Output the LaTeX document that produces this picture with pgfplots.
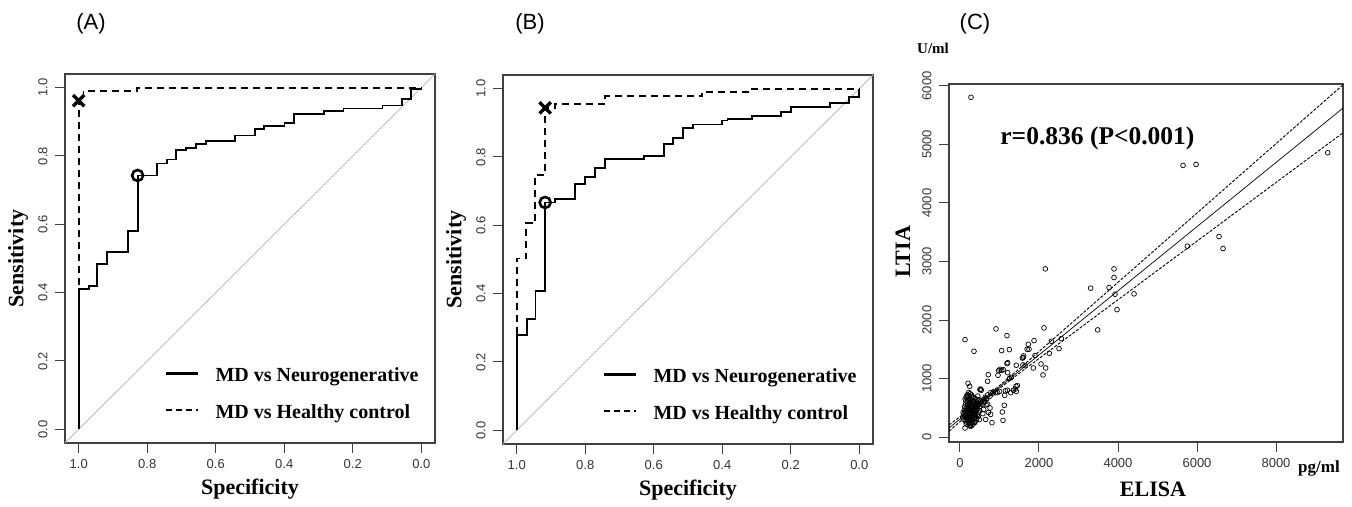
\documentclass[border=0pt]{standalone}
\usepackage{pgfplots}
\pgfplotsset{compat=1.18}
\usepackage{fontspec}
\setmainfont{Liberation Serif}
\setsansfont{Liberation Sans}

\newcommand{\fs}[1]{\fontsize{#1}{#1}\selectfont}

\pgfplotsset{
  rstyle/.style={
    scale only axis,
    anchor=south west,
    axis line style={black!75, line width=1.2pt},
    tick align=outside, tick pos=left,
    major tick length=10pt,
    tick style={black!75, line width=1pt},
    ticklabel style={font=\fs{13}\sffamily, text=black!80},
    yticklabel style={rotate=90, anchor=south},
    xticklabel shift=3pt, yticklabel shift=4pt,
    every axis x label/.style={at={(axis description cs:0.5,0)}, anchor=center, yshift=-46pt, font=\fs{22}\bfseries},
    every axis y label/.style={at={(axis description cs:-0.127,0.5)}, anchor=center, rotate=90, font=\fs{22}\bfseries},
  },
  roc/.style={
    rstyle, width=370pt, height=369pt,
    xmin=-0.04, xmax=1.04, ymin=-0.04, ymax=1.04, x dir=reverse,
    xtick={0,0.2,0.4,0.6,0.8,1}, xticklabels={0.0,0.2,0.4,0.6,0.8,1.0},
    ytick={0,0.2,0.4,0.6,0.8,1}, yticklabels={0.0,0.2,0.4,0.6,0.8,1.0},
    xlabel={Specificity}, ylabel={Sensitivity},
    legend style={draw=none, fill=none, font=\fs{20}\bfseries, row sep=17pt,
      at={(axis description cs:0.262,0.052)}, anchor=south west},
    legend cell align=left,
    legend image code/.code={\draw[#1] (0pt,2pt) -- (32pt,2pt); \path (46pt,0pt);},
  },
  solidroc/.style={black, line width=1.8pt, const plot mark left},
  dashroc/.style={black, line width=1.8pt, dash pattern=on 7pt off 5pt, const plot mark left},
}

\begin{document}
\begin{tikzpicture}[x=1pt, y=1pt]
\useasboundingbox (0,0) rectangle (1352,506);

% (A)
\begin{axis}[roc, at={(65pt,63pt)}]
\addlegendimage{black, line width=2.4pt}
\addlegendentry{MD vs Neurogenerative}
\addlegendimage{black, line width=2.4pt, dash pattern=on 6pt off 4pt}
\addlegendentry{MD vs Healthy control}
\addplot[gray!50, line width=0.9pt, forget plot] coordinates {(1.04,-0.04) (-0.04,1.04)};
\addplot[solidroc, forget plot] coordinates {
  (1,0) (1,0.41) (0.971,0.42) (0.946,0.483) (0.917,0.519) (0.856,0.58)
  (0.828,0.743) (0.771,0.778) (0.742,0.790) (0.715,0.817) (0.686,0.824)
  (0.657,0.834) (0.629,0.844) (0.543,0.860) (0.486,0.880) (0.458,0.888)
  (0.399,0.896) (0.371,0.922) (0.285,0.932) (0.227,0.939) (0.113,0.948)
  (0.056,0.966) (0.029,0.995) (0,1)};
\addplot[dashroc, forget plot] coordinates {
  (1,0) (1,0.962) (0.986,0.991) (0.829,1.0) (0,1.0)};
\addplot[only marks, mark=x, mark size=8pt, line width=3.4pt, forget plot] coordinates {(1,0.962)};
\addplot[only marks, mark=o, mark size=5.5pt, line width=2.6pt, forget plot] coordinates {(0.828,0.743)};
\end{axis}

% (B)
\begin{axis}[roc, at={(503pt,62pt)}]
\addlegendimage{black, line width=2.4pt}
\addlegendentry{MD vs Neurogenerative}
\addlegendimage{black, line width=2.4pt, dash pattern=on 6pt off 4pt}
\addlegendentry{MD vs Healthy control}
\addplot[gray!50, line width=0.9pt, forget plot] coordinates {(1.04,-0.04) (-0.04,1.04)};
\addplot[solidroc, forget plot] coordinates {
  (1,0) (1,0.279) (0.971,0.326) (0.945,0.408) (0.917,0.667) (0.888,0.677)
  (0.830,0.722) (0.801,0.742) (0.772,0.768) (0.742,0.794) (0.628,0.803)
  (0.570,0.839) (0.543,0.856) (0.515,0.885) (0.486,0.895) (0.400,0.907)
  (0.385,0.912) (0.313,0.920) (0.228,0.932) (0.200,0.946) (0.086,0.958)
  (0.029,0.976) (0,1.0)};
\addplot[dashroc, forget plot] coordinates {
  (1,0) (1,0.503) (0.973,0.606) (0.946,0.747) (0.917,0.944) (0.888,0.956)
  (0.742,0.978) (0.458,0.990) (0.313,1.0) (0,1.0)};
\addplot[only marks, mark=x, mark size=8pt, line width=3.4pt, forget plot] coordinates {(0.917,0.944)};
\addplot[only marks, mark=o, mark size=5.5pt, line width=2.6pt, forget plot] coordinates {(0.917,0.667)};
\end{axis}

% (C)
\begin{axis}[rstyle, at={(949pt,64pt)}, width=394pt, height=358pt,
  xmin=-278, xmax=9696, ymin=-85, ymax=6034,
  xtick={0,2000,4000,6000,8000}, xticklabels={0,2000,4000,6000,8000},
  ytick={0,1000,2000,3000,4000,5000,6000}, yticklabels={0,1000,2000,3000,4000,5000,6000},
  xlabel={ELISA}, ylabel={LTIA},
  xlabel style={xshift=7pt, yshift=-1pt},
  ylabel style={at={(axis description cs:-0.117,0.531)}}]
\addplot[only marks, mark=o, mark size=2.4pt, mark options={line width=0.7pt}, black] table {
x y
279 5806
5646 4642
5976 4659
9309 4859
6558 3427
6659 3222
5756 3262
2161 2874
3308 2544
3773 2555
3899 2874
3899 2726
3925 2441
4406 2447
3975 2178
3486 1831
2127 1865
127 1665
354 1466
911 1848
1190 1734
1055 1477
1249 1494
1874 1648
1730 1585
1747 1500
2313 1637
2566 1682
2507 1511
2262 1431
1899 1392
1612 1386
1595 1232
2051 1249
2169 1180
2102 1061
1857 1180
1426 1226
1190 1255
979 1135
1055 1141
962 1055
717 1066
700 952
203 918
245 867
506 810
1418 867
1426 781
1283 758
1131 713
1122 542
1072 428
1089 285
810 245
127 154
270 182
1013 1157
1207 1271
1646 1220
1600 1360
1580 1350
1700 1500
1207 1100
1250 1000
1300 1020
1100 1150
1450 880
1400 820
1350 800
1200 800
1150 790
1000 780
950 760
900 760
860 780
820 740
780 760
760 700
700 720
680 650
640 680
620 600
600 640
560 560
540 620
520 580
500 520
480 640
450 700
430 560
520 820
540 800
760 496
777 388
667 661
660 550
700 560
720 420
600 470
580 400
650 300
100 300
120 350
130 420
140 380
150 260
150 450
160 500
170 330
180 400
180 600
190 280
190 470
200 350
200 550
210 420
210 650
220 300
220 500
230 380
230 700
240 260
240 450
250 330
250 580
260 400
260 520
270 280
270 640
280 360
280 470
290 420
290 720
300 300
300 540
310 380
310 600
320 250
320 460
330 340
330 680
340 410
340 520
350 300
350 620
360 380
360 470
370 260
370 560
380 430
380 660
390 340
400 500
400 390
410 600
420 310
420 450
430 530
440 380
450 480
460 350
470 420
480 560
490 300
500 450
90 380
110 460
80 420
70 330
140 560
160 680
120 520
220 760
260 740
300 690
180 720
200 620
240 620
280 580
310 500
330 440
350 410
230 330
270 350
290 320
210 370
190 330
170 450
260 300
300 420
320 360
360 330
250 480
280 520
200 480
230 580
340 580
380 520
420 640
440 560
460 620
150 620
130 650
190 700
210 240
280 230
330 220
380 250
160 220
240 200
300 200
};
\addplot[black, line width=0.7pt] coordinates {(-278,154) (9696,5622)};
\addplot[black, line width=0.9pt, dash pattern=on 3pt off 1.5pt] coordinates {
  (-278,206) (0,347) (400,552) (800,765) (1500,1166) (3000,2051) (6000,3829) (9696,6020)};
\addplot[black, line width=0.9pt, dash pattern=on 3pt off 1.5pt] coordinates {
  (-278,99) (0,263) (400,497) (800,725) (1500,1090) (3000,1845) (6000,3349) (9696,5200)};
\node[font=\fs{25.5}\bfseries] at (axis cs:3480,5110) {r=0.836 (P<0.001)};
\end{axis}

% panel letters and units
\node[font=\fs{22}\sffamily] at (91,482) {(A)};
\node[font=\fs{22}\sffamily] at (530,482) {(B)};
\node[font=\fs{22}\sffamily] at (975,482) {(C)};
\node[font=\fs{15}\bfseries] at (933,458) {U/ml};
\node[font=\fs{17}\bfseries] at (1319,38) {pg/ml};
\end{tikzpicture}
\end{document}
